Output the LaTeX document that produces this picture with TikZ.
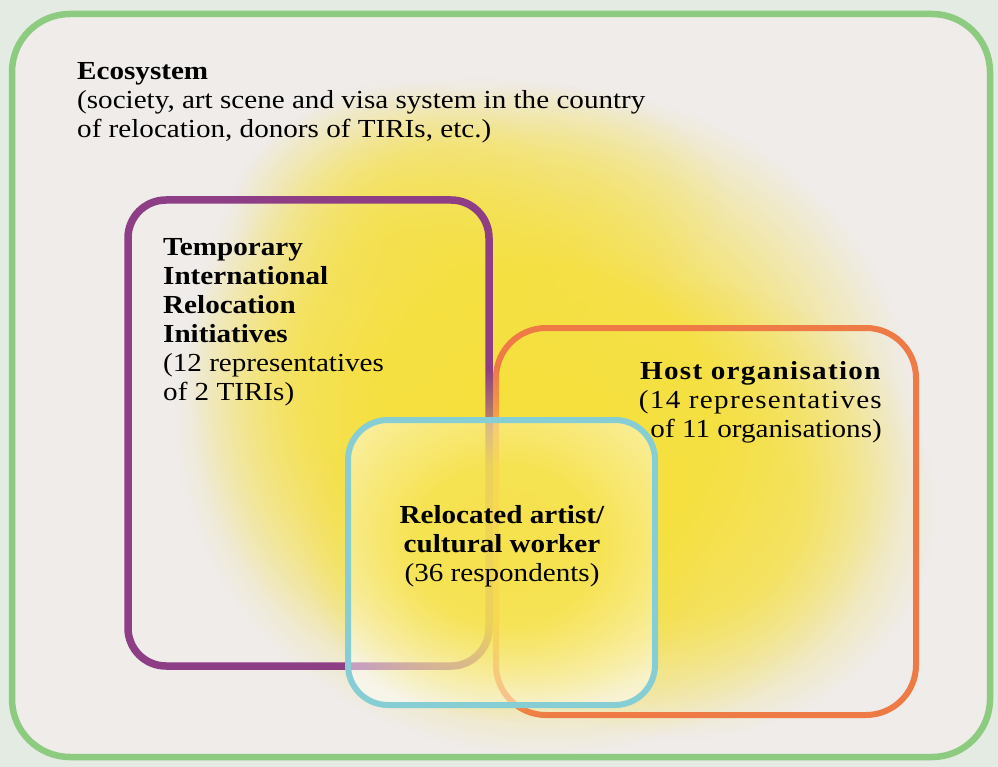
\documentclass[tikz,border=0pt]{standalone}
\usepackage{fontspec}
\setmainfont{Liberation Serif}[FakeStretch=1.12]
\usetikzlibrary{fadings}

\definecolor{paperout}{RGB}{228,235,226}
\definecolor{paperin}{RGB}{239,236,234}
\definecolor{glowyellow}{RGB}{246,224,62}
\definecolor{ecogreen}{RGB}{140,203,128}
\definecolor{tiripurple}{RGB}{142,62,132}
\definecolor{hostorange}{RGB}{238,122,70}
\definecolor{artistcyan}{RGB}{134,205,212}

% soft radial glow: flat centre, fading out before the fitted rim
\pgfdeclareradialshading{glowshade}{\pgfpointorigin}{%
  color(0bp)=(pgftransparent!0); color(10bp)=(pgftransparent!8);
  color(22bp)=(pgftransparent!100); color(50bp)=(pgftransparent!100)}
\pgfdeclarefading{glow}{\pgfuseshading{glowshade}}

\begin{document}
\begin{tikzpicture}[x=1pt,y=-1pt,
  ecoline/.style={draw=ecogreen, line width=6.5pt, rounded corners=58pt},
  tiriline/.style={draw=tiripurple, line width=7.5pt, rounded corners=38pt},
  hostline/.style={draw=hostorange, line width=6pt, rounded corners=50pt},
  artistline/.style={draw=artistcyan, line width=6pt, rounded corners=40pt},
  blob/.style={fill=glowyellow, path fading=glow, fill opacity=#1},
  label/.style={inner sep=0pt, text=black, font=\fontsize{26}{29}\selectfont},
  spaced/.style={font=\fontsize{26}{29}\selectfont\addfontfeature{LetterSpace=5}},
]
\useasboundingbox (0,0) rectangle (998,767);

% paper
\fill[paperout] (0,0) rectangle (998,767);
\fill[paperin, rounded corners=58pt] (12,14) rectangle (990,757);

% yellow glow in the middle of the field
\fill[blob=1] (545,420) ellipse (420 and 380);
\fill[blob=0.7] (400,370) ellipse (240 and 330);
\fill[blob=0.7] (680,510) ellipse (290 and 260);
\fill[blob=0.45] (480,200) ellipse (280 and 140);

% ecosystem frame
\draw[ecoline] (12,14) rectangle (990,757);

% temporary international relocation initiatives
\draw[tiriline] (128,200) rectangle (489,666);

% host organisation
\draw[hostline] (496,328) rectangle (916,715);

% relocated artist: a pale veil over the lines it covers
\fill[white, fill opacity=0.5, rounded corners=40pt] (348,420) rectangle (655,705);
\fill[blob=0.85] (505,545) ellipse (230 and 200);
\draw[artistline] (348,420) rectangle (655,705);

% labels
\node[label, anchor=north west, align=left] (ecotext) at (77,62)
  {\textbf{Ecosystem}\\(society, art scene and visa system in the country\\of relocation, donors of TIRIs, etc.)};
\node[label, anchor=north west, align=left] (tiritext) at (163,238)
  {\textbf{Temporary}\\\textbf{International}\\\textbf{Relocation}\\\textbf{Initiatives}\\(12 representatives\\of 2 TIRIs)};
\node[label, spaced, anchor=north east, align=right] (hosttext) at (882,361)
  {\textbf{Host organisation}\\(14 representatives\\{\addfontfeature{LetterSpace=0}of 11 organisations)}};
\node[label, anchor=north, align=center] (artisttext) at (502,505)
  {\textbf{Relocated artist/}\\\textbf{cultural worker}\\(36 respondents)};
\end{tikzpicture}
\end{document}
